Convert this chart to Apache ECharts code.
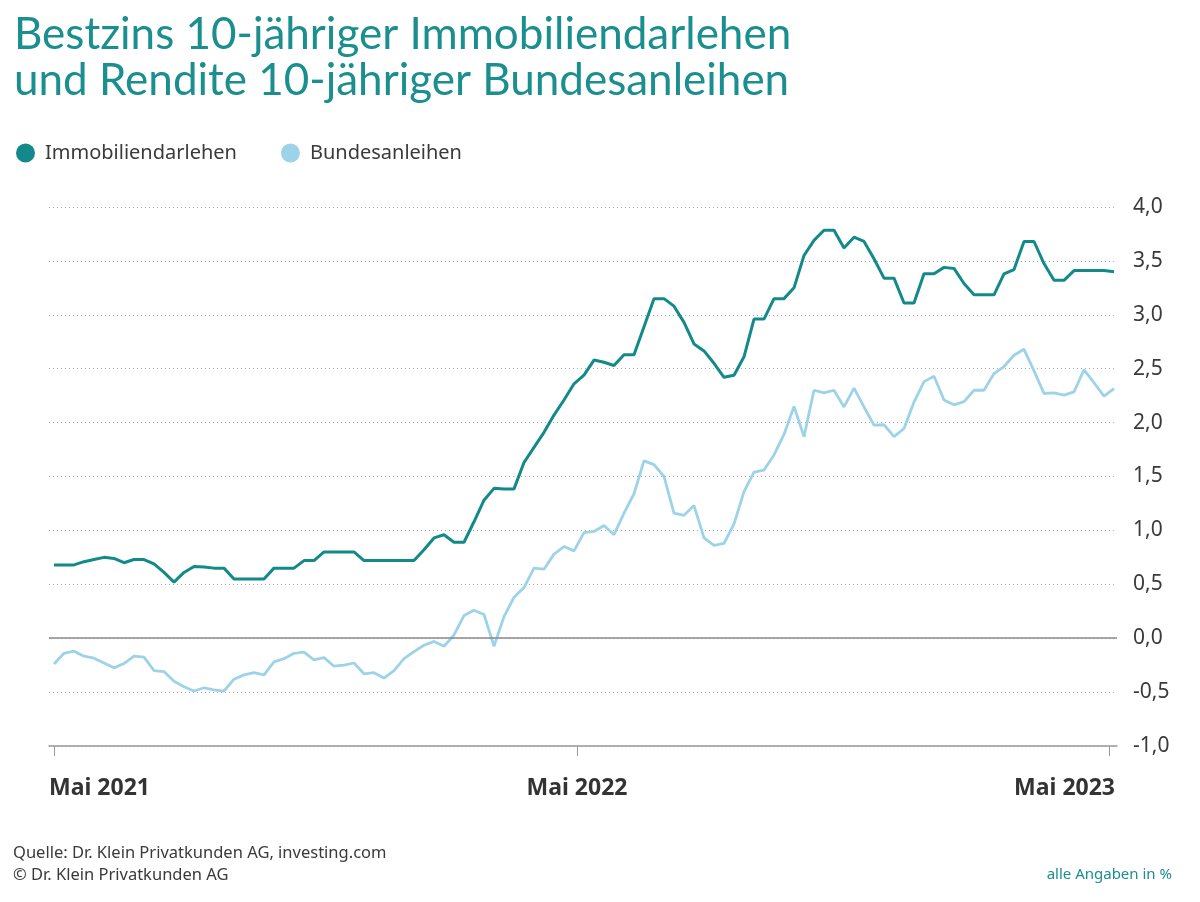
<!DOCTYPE html>
<html>
<head>
<meta charset="utf-8">
<script src="https://cdn.jsdelivr.net/npm/echarts@6/dist/echarts.min.js"></script>
<style>html,body{margin:0;padding:0;background:#fff}#c{width:1200px;height:902px}</style>
</head>
<body>
<div id="c"></div>
<script>
// Weekly values, May 2021 – May 2023 (in %)
const immobiliendarlehen = [
  0.68,0.68,0.68,0.71,0.73,0.75,0.74,0.70,0.73,0.73,
  0.69,0.61,0.52,0.61,0.665,0.66,0.65,0.65,0.55,0.55,
  0.55,0.55,0.65,0.65,0.65,0.72,0.72,0.80,0.80,0.80,
  0.80,0.72,0.72,0.72,0.72,0.72,0.72,0.82,0.93,0.96,
  0.89,0.89,1.08,1.28,1.39,1.385,1.385,1.63,1.77,1.91,
  2.07,2.21,2.36,2.44,2.58,2.56,2.53,2.63,2.63,2.89,
  3.15,3.15,3.08,2.93,2.73,2.665,2.55,2.42,2.44,2.61,
  2.96,2.96,3.15,3.15,3.25,3.55,3.69,3.785,3.785,3.62,
  3.72,3.68,3.52,3.34,3.34,3.11,3.11,3.38,3.38,3.44,
  3.43,3.29,3.185,3.185,3.185,3.38,3.42,3.68,3.68,3.475,
  3.32,3.32,3.41,3.41,3.41,3.41,3.40
];
const bundesanleihen = [
  -0.24,-0.14,-0.12,-0.167,-0.185,-0.23,-0.275,-0.235,-0.167,-0.176,
  -0.30,-0.31,-0.40,-0.45,-0.49,-0.46,-0.48,-0.49,-0.38,-0.34,
  -0.32,-0.34,-0.22,-0.19,-0.14,-0.13,-0.20,-0.18,-0.26,-0.25,
  -0.23,-0.33,-0.32,-0.37,-0.30,-0.19,-0.125,-0.065,-0.03,-0.075,
  0.03,0.21,0.26,0.22,-0.075,0.20,0.38,0.47,0.65,0.64,
  0.78,0.85,0.81,0.98,0.99,1.045,0.96,1.16,1.34,1.645,
  1.61,1.50,1.16,1.14,1.23,0.93,0.86,0.88,1.06,1.36,
  1.54,1.56,1.70,1.89,2.15,1.87,2.30,2.275,2.30,2.145,
  2.32,2.145,1.976,1.98,1.87,1.945,2.19,2.38,2.43,2.21,
  2.165,2.195,2.30,2.30,2.455,2.52,2.625,2.68,2.48,2.27,
  2.275,2.255,2.285,2.49,2.37,2.245,2.315
];
const xTickWeeks = [0, 52.3, 105.5];
const xTickLabels = ['Mai 2021', 'Mai 2022', 'Mai 2023'];
const xLabelWeeks = [-0.5, 52.3, 106.1];
const seriesNames = ['Immobiliendarlehen', 'Bundesanleihen'];

const teal = '#14898a';
const sky = '#9dd3e9';
const dark = '#3a3a3a';
const font = 'Noto Sans';

const toPairs = arr => arr.map((v, i) => [i, v]);

const chart = echarts.init(document.getElementById('c'), null, {renderer: 'canvas'});
chart.setOption({
  animation: false,
  backgroundColor: '#fff',
  title: [
    {
      text: 'Bestzins 10-jähriger Immobiliendarlehen\nund Rendite 10-jähriger Bundesanleihen',
      left: 9, top: 7,
      textStyle: {fontFamily: 'Lato', fontWeight: 'normal', fontSize: 44, lineHeight: 46, color: '#1b8f8f'}
    },
    {
      text: 'Quelle: Dr. Klein Privatkunden AG, investing.com\n© Dr. Klein Privatkunden AG',
      left: 8, top: 837,
      textStyle: {fontFamily: font, fontWeight: 'normal', fontSize: 16.5, lineHeight: 22, color: dark}
    },
    {
      text: 'alle Angaben in %',
      right: 23, top: 862,
      textStyle: {fontFamily: font, fontWeight: 'normal', fontSize: 15, color: '#1b8f8f'}
    }
  ],
  legend: {
    left: 11, top: 138,
    icon: 'circle',
    itemWidth: 19, itemHeight: 19,
    itemGap: 44,
    data: seriesNames,
    textStyle: {fontFamily: font, fontSize: 20, color: dark, padding: [0, 0, 0, 5]}
  },
  grid: {left: 49, right: 83, top: 207, bottom: 156, containLabel: false},
  xAxis: {
    type: 'value',
    min: -0.5, max: 106.3,
    axisLine: {show: true, onZero: false, lineStyle: {color: '#999', width: 1.5}},
    axisTick: {show: true, customValues: xTickWeeks, length: 10, lineStyle: {color: '#999', width: 1}},
    axisLabel: {
      show: true,
      customValues: xLabelWeeks,
      margin: 31,
      fontFamily: font, fontWeight: 'bold', fontSize: 23, color: '#333',
      alignMinLabel: 'left', alignMaxLabel: 'right',
      formatter: v => xTickLabels[xLabelWeeks.indexOf(v)] || ''
    },
    splitLine: {show: false}
  },
  yAxis: {
    type: 'value',
    position: 'right',
    min: -1, max: 4, interval: 0.5,
    axisLine: {show: false},
    axisTick: {show: false},
    axisLabel: {
      margin: 16, fontFamily: font, fontSize: 21, color: dark,
      formatter: v => v.toFixed(1).replace('.', ',')
    },
    splitLine: {show: true, lineStyle: {color: '#aaa', type: [1, 3], width: 1}}
  },
  series: [
    {
      name: seriesNames[0], type: 'line', data: toPairs(immobiliendarlehen),
      showSymbol: false, symbol: 'circle', color: teal,
      lineStyle: {color: teal, width: 3}, z: 3,
      markLine: {
        silent: true, symbol: 'none', label: {show: false},
        lineStyle: {color: '#8a8a8a', type: 'solid', width: 1.5},
        data: [{yAxis: 0}]
      }
    },
    {
      name: seriesNames[1], type: 'line', data: toPairs(bundesanleihen),
      showSymbol: false, symbol: 'circle', color: sky,
      lineStyle: {color: sky, width: 2.8}, z: 2
    }
  ]
});
</script>
</body>
</html>
